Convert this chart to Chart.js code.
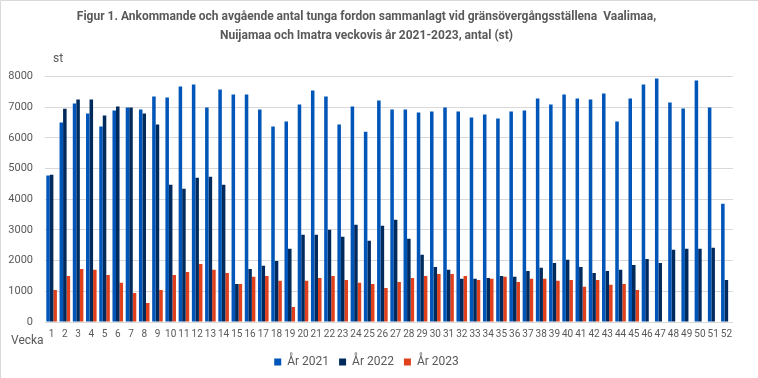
<!DOCTYPE html>
<html>
<head>
<meta charset="utf-8">
<script src="https://cdn.jsdelivr.net/npm/chart.js@4.4.0/dist/chart.umd.min.js"></script>
<style>
html,body{margin:0;padding:0;background:#fff;}
#wrap{width:758px;height:378px;position:relative;}
</style>
</head>
<body>
<div id="wrap"><canvas id="c" width="758" height="378"></canvas></div>
<script>
const weeks = Array.from({length:52},(_,i)=>String(i+1));
const titleLines = ["Figur 1. Ankommande och avgående antal tunga fordon sammanlagt vid gränsövergångsställena  Vaalimaa,",
                    "Nuijamaa och Imatra veckovis år 2021-2023, antal (st)"];
const seriesNames = ["År 2021","År 2022","År 2023"];
const y2021 = [4770,6500,7115,6790,6365,6890,6985,6920,7345,7310,7670,7740,6985,7575,7410,7410,6920,6365,6530,7085,
               7540,7345,6430,7020,6200,7215,6920,6920,6825,6855,6985,6855,6660,6760,6630,6855,6890,7280,7085,7410,
               7280,7250,7445,6530,7280,7740,7935,7150,6955,7870,6985,3855];
const y2022 = [4800,6950,7250,7250,6725,7020,6985,6790,6430,4470,4340,4700,4735,4470,1240,1730,1830,1990,2385,2840,
               2840,3005,2775,3165,2645,3135,3330,2710,2190,1795,1700,1405,1405,1435,1500,1470,1665,1765,1925,2025,
               1795,1600,1665,1700,1860,2055,1925,2350,2385,2385,2415,1370];
const y2023 = [1045,1500,1730,1700,1535,1275,945,620,1045,1535,1630,1890,1700,1600,1240,1470,1500,1340,490,1340,
               1435,1500,1370,1275,1240,1110,1305,1435,1500,1565,1565,1500,1370,1405,1470,1305,1405,1405,1340,1370,
               1145,1370,1210,1240,1045];
const yTicks = [0,1000,2000,3000,4000,5000,6000,7000,8000];
const colors = ["#0055B8","#002A5C","#E0401C"];
const fontFam = "'Roboto', sans-serif";
const gray = "#595959";

const extras = {
  id:'extras',
  beforeDraw(chart){
    const ctx = chart.ctx;
    ctx.save();
    ctx.fillStyle = '#fff';
    ctx.fillRect(0,0,chart.width,chart.height);
    ctx.strokeStyle = '#d9d9d9';
    ctx.lineWidth = 1;
    ctx.beginPath();
    ctx.moveTo(0.5,chart.height); ctx.lineTo(0.5,0.5); ctx.lineTo(chart.width,0.5);
    ctx.stroke();
    ctx.restore();
  },
  afterDraw(chart){
    const ctx = chart.ctx;
    ctx.save();
    ctx.fillStyle = gray;
    ctx.font = "12px " + fontFam;
    ctx.textBaseline = 'middle';
    ctx.textAlign = 'left';
    ctx.fillText('st', 53, 59);
    ctx.fillText('Vecka', 11, 341);
    ctx.restore();
  }
};

new Chart(document.getElementById('c'), {
  type:'bar',
  data:{
    labels: weeks,
    datasets: seriesNames.map((n,i)=>({
      label:n,
      data:[y2021,y2022,y2023][i],
      backgroundColor:colors[i],
      borderWidth:0,
      categoryPercentage:0.8,
      barPercentage:1.0
    }))
  },
  options:{
    responsive:false,
    animation:false,
    devicePixelRatio:1,
    layout:{padding:{left:0,right:25,top:0,bottom:0}},
    plugins:{
      title:{display:true,text:titleLines,color:gray,
        font:{family:fontFam,size:12,weight:'bold',lineHeight:1.6},
        padding:{top:7,bottom:31}},
      legend:{position:'bottom',
        labels:{boxWidth:7,boxHeight:7,color:gray,padding:10,
          font:{family:fontFam,size:12}}},
      tooltip:{enabled:false}
    },
    scales:{
      x:{
        grid:{display:false,drawTicks:false},
        border:{display:false},
        ticks:{color:gray,autoSkip:false,maxRotation:0,minRotation:0,padding:6,
          font:{family:fontFam,size:10}}
      },
      y:{
        min:0,max:8000,
        afterBuildTicks(s){ s.ticks = yTicks.map(v=>({value:v})); },
        afterFit(s){ s.width = 45; },
        grid:{color:'#d9d9d9',drawTicks:false,lineWidth:1},
        border:{display:false},
        ticks:{color:gray,padding:12,font:{family:fontFam,size:11},
          callback:(v)=>String(v)}
      }
    }
  },
  plugins:[extras]
});
</script>
</body>
</html>
